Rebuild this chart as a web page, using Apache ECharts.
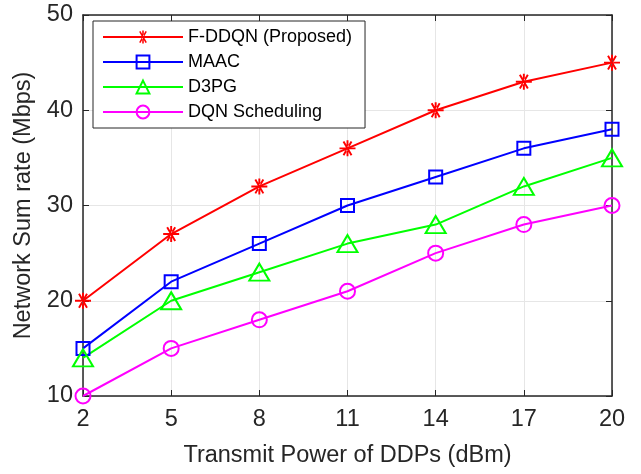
<!DOCTYPE html>
<html>
<head>
<meta charset="utf-8">
<script src="https://cdn.jsdelivr.net/npm/echarts@6/dist/echarts.min.js"></script>
<style>
  html, body { margin: 0; padding: 0; background: #fff; }
  #chart { width: 641px; height: 474px; }
</style>
</head>
<body>
<div id="chart"></div>
<script>
/* data */
const powers = ['2', '5', '8', '11', '14', '17', '20']
const fddqn = [20, 27, 32, 36, 40, 43, 45]
const maac = [15, 22, 26, 30, 33, 36, 38]
const d3pg = [14, 20, 23, 26, 28, 32, 35]
const dqnSched = [10, 15, 18, 21, 25, 28, 30]
const seriesNames = ['F-DDQN (Proposed)', 'MAAC', 'D3PG', 'DQN Scheduling']

// asterisk marker (vertical + horizontal + two diagonals), thicker arms
const star = 'path://M44 0L56 0L56 100L44 100Z M0 44L100 44L100 56L0 56Z ' +
  'M80.2 90.3L69.8 96.3L19.8 9.7L30.2 3.7Z M19.8 90.3L30.2 96.3L80.2 9.7L69.8 3.7Z'

const txt = '#262626'
const font = 'Liberation Sans, Arial, sans-serif'

function line(name, data, color, symbol, size, filled) {
  return {
    name: name,
    type: 'line',
    data: data,
    symbol: symbol,
    symbolSize: size,
    showAllSymbol: true,
    lineStyle: { color: color, width: 2 },
    itemStyle: filled
      ? { color: color, borderWidth: 0 }
      : { color: 'rgba(255,255,255,0)', borderColor: color, borderWidth: 2 },
    emphasis: { disabled: true },
    z: 3,
  }
}

var myChart = echarts.init(document.getElementById('chart'))
const option = {
  animation: false,
  textStyle: { fontFamily: font },
  grid: { left: 83, right: 29, top: 15, bottom: 78 },
  legend: {
    left: 93,
    top: 21,
    orient: 'vertical',
    itemWidth: 80,
    itemHeight: 16,
    itemGap: 7,
    padding: [7, 13, 7, 9],
    backgroundColor: '#fff',
    borderColor: txt,
    borderWidth: 1,
    textStyle: { color: '#000', fontSize: 18, fontFamily: font },
    data: seriesNames,
  },
  xAxis: [
    {
      type: 'category',
      data: powers,
      boundaryGap: false,
      name: 'Transmit Power of DDPs (dBm)',
      nameLocation: 'middle',
      nameGap: 48,
      nameTextStyle: { color: txt, fontSize: 23.5 },
      axisLine: { lineStyle: { color: txt, width: 1.5 } },
      axisTick: { inside: true, length: 6, lineStyle: { color: txt } },
      axisLabel: { color: txt, fontSize: 23.5, margin: 12 },
      splitLine: { show: true, lineStyle: { color: '#e6e6e6', width: 1 } },
    },
    {
      type: 'category',
      data: powers,
      boundaryGap: false,
      position: 'top',
      axisLine: { lineStyle: { color: txt, width: 1.5 } },
      axisTick: { inside: true, length: 6, lineStyle: { color: txt } },
      axisLabel: { show: false },
      splitLine: { show: false },
    },
  ],
  yAxis: [
    {
      type: 'value',
      min: 10,
      max: 50,
      interval: 10,
      name: 'Network Sum rate (Mbps)',
      nameLocation: 'middle',
      nameGap: 45,
      nameTextStyle: { color: txt, fontSize: 23.5 },
      axisLine: { show: true, lineStyle: { color: txt, width: 1.5 } },
      axisTick: { show: true, inside: true, length: 6, lineStyle: { color: txt } },
      axisLabel: { color: txt, fontSize: 23.5, margin: 10 },
      splitLine: { show: true, lineStyle: { color: '#e6e6e6', width: 1 } },
    },
    {
      type: 'value',
      min: 10,
      max: 50,
      interval: 10,
      position: 'right',
      axisLine: { show: true, lineStyle: { color: txt, width: 1.5 } },
      axisTick: { show: true, inside: true, length: 6, lineStyle: { color: txt } },
      axisLabel: { show: false },
      splitLine: { show: false },
    },
  ],
  series: [
    line(seriesNames[0], fddqn, '#ff0000', star, 16, true),
    line(seriesNames[1], maac, '#0000ff', 'rect', 13, false),
    line(seriesNames[2], d3pg, '#00ff00', 'triangle', [20, 17], false),
    line(seriesNames[3], dqnSched, '#ff00ff', 'circle', 15, false),
  ],
}
myChart.setOption(option)
</script>
</body>
</html>
